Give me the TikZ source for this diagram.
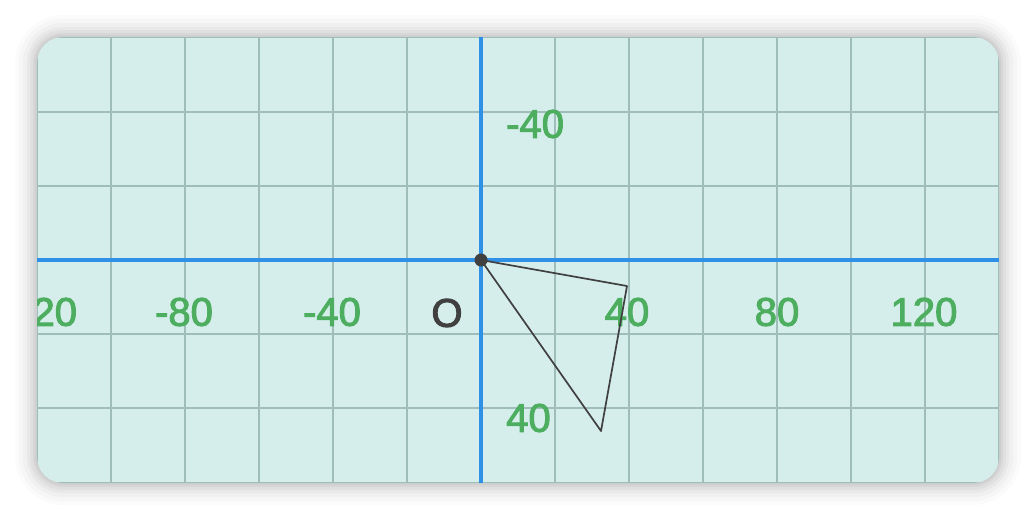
\documentclass[tikz,border=0pt]{standalone}
\usepackage{fontspec}
\setmainfont{Liberation Sans}
\newfontfamily\labfont[FakeBold=2.5]{Liberation Sans}
\definecolor{panelfill}{HTML}{D5EEEC}
\definecolor{gridc}{HTML}{9FBDB9}
\definecolor{axisc}{HTML}{2E90E6}
\definecolor{labc}{HTML}{4DAE5F}
\definecolor{inkc}{HTML}{404040}
\begin{document}
\begin{tikzpicture}[x=1pt,y=-1pt,
  gridline/.style={draw=gridc,line width=2.6pt},
  axisline/.style={draw=axisc,line width=4.6pt},
  ticklab/.style={text=labc,font=\labfont\fontsize{40}{40}\selectfont,inner sep=0pt},
  originlab/.style={text=inkc,font=\labfont\fontsize{40}{40}\selectfont,inner sep=0pt},
  tri/.style={draw=inkc,line width=1.7pt,line join=round},
  dotc/.style={circle,fill=inkc,minimum size=13pt,inner sep=0pt}]
\useasboundingbox (0,0) rectangle (1036,520);
% soft shadow
\foreach \d/\o in {22/0.015,18/0.02,14/0.025,10/0.03,7/0.035,4/0.04,2/0.04}{
  \fill[black,opacity=\o,rounded corners=26+\d] (37-\d,37-\d) rectangle (999+\d,483+\d);
}
\begin{scope}
\clip[rounded corners=26] (37,37) rectangle (999,483);
\fill[panelfill] (37,37) rectangle (999,483);
\foreach \x in {37,111,185,259,333,407,555,629,703,777,851,925,999}
  \draw[gridline] (\x,37) -- (\x,483);
\foreach \y in {37,112,186,334,408,483}
  \draw[gridline] (37,\y) -- (999,\y);
\draw[axisline] (37,260) -- (999,260);
\draw[axisline] (481,37) -- (481,483);
% x-axis labels
\node[ticklab] (xm120) at (37,312) {-120};
\node[ticklab] (xm80) at (184,312) {-80};
\node[ticklab] (xm40) at (332,312) {-40};
\node[originlab] (olab) at (447,313) {O};
\node[ticklab] (xp40) at (627,312) {40};
\node[ticklab] (xp80) at (777,312) {80};
\node[ticklab] (xp120) at (924,312) {120};
% y-axis labels
\node[ticklab,anchor=west] (ym40) at (506,124) {-40};
\node[ticklab,anchor=west] (yp40) at (506,418) {40};
% triangle
\coordinate (O) at (481,260);
\coordinate (A) at (627,286);
\coordinate (B) at (601,431);
\draw[tri] (O) -- (A) -- (B) -- cycle;
\node[dotc] (odot) at (O) {};
\end{scope}
\end{tikzpicture}
\end{document}
